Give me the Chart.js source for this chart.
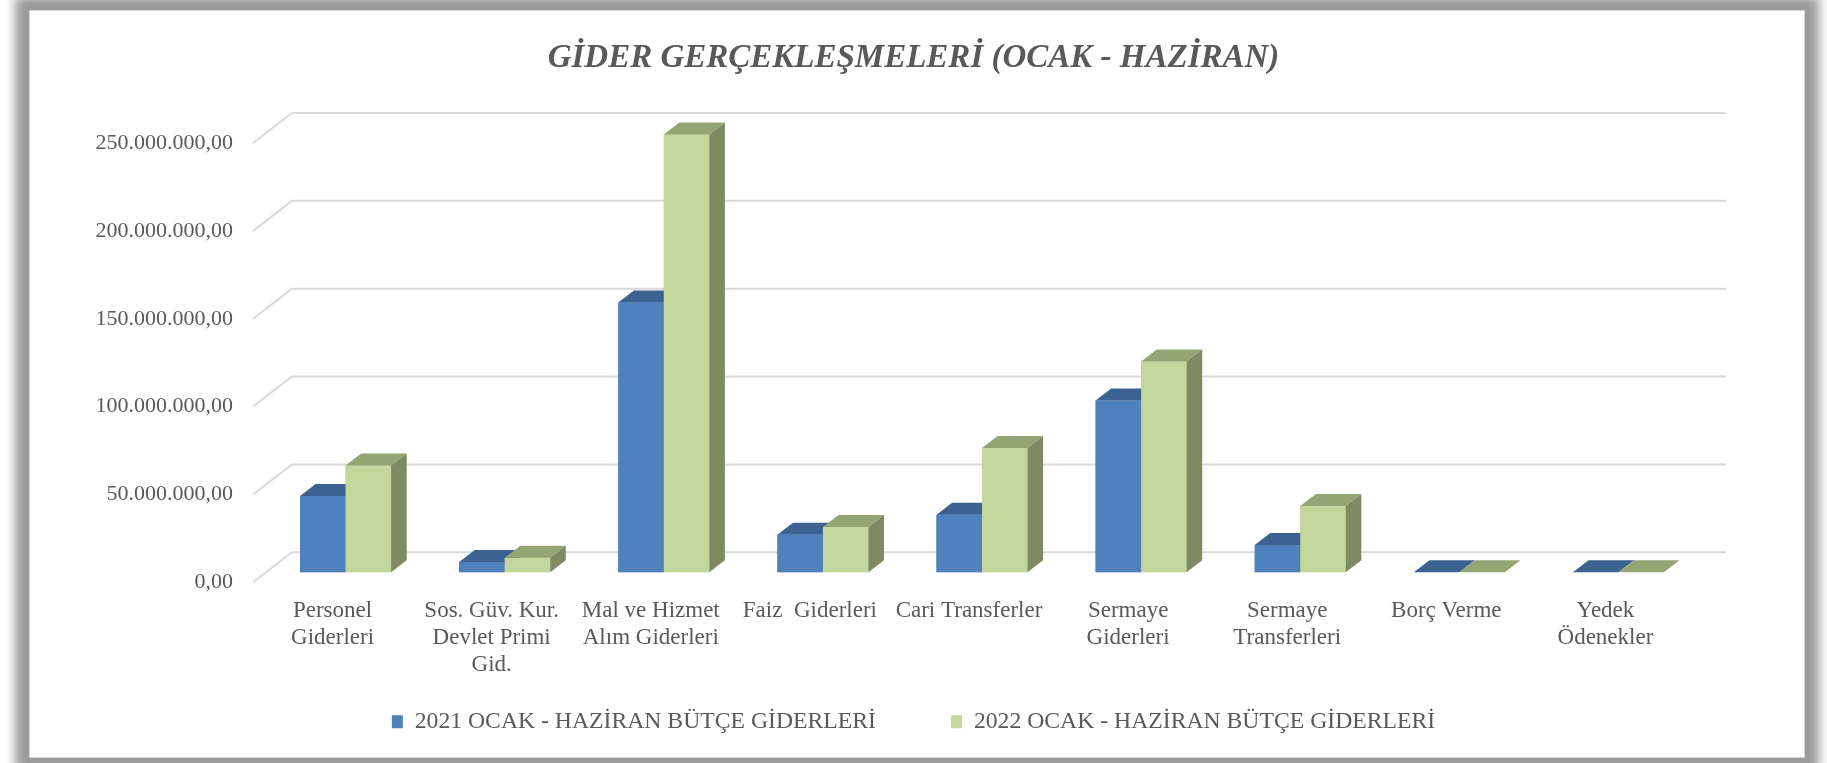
<!DOCTYPE html>
<html lang="tr">
<head>
<meta charset="utf-8">
<title>Gider Gerçekleşmeleri</title>
<script src="https://cdn.jsdelivr.net/npm/chart.js@4.4.1/dist/chart.umd.min.js"></script>
<style>
    html, body { margin: 0; padding: 0; background: #fff; overflow: hidden; }
    #frame {
        position: absolute; left: 29px; top: 10px; width: 1776px; height: 748px;
        box-sizing: border-box; border: 1px solid #d4d4d4; background: #fff;
        box-shadow: 0 0 10px 14px #9b9b9b;
    }
    #wrap { position: absolute; left: 0; top: 0; width: 1827px; height: 763px; }
</style>
</head>
<body>
<div id="frame"></div>
<div id="wrap"><canvas id="chartGider" width="1827" height="763"></canvas></div>
<script>
// Veriler
const categories = [
    ["Personel", "Giderleri"],
    ["Sos. Güv. Kur.", "Devlet Primi", "Gid."],
    ["Mal ve Hizmet", "Alım Giderleri"],
    "Faiz  Giderleri",
    "Cari Transferler",
    ["Sermaye", "Giderleri"],
    ["Sermaye", "Transferleri"],
    "Borç Verme",
    ["Yedek", "Ödenekler"],
];
const seriesNames = [
    "2021 OCAK - HAZİRAN BÜTÇE GİDERLERİ",
    "2022 OCAK - HAZİRAN BÜTÇE GİDERLERİ",
];
const values2021 = [43400000, 5900000, 153600000, 21400000, 32800000, 97700000, 15500000, 0, 0];
const values2022 = [60800000, 8300000, 249200000, 25800000, 70800000, 119900000, 37700000, 0, 0];
const yTicks = [0, 50000000, 100000000, 150000000, 200000000, 250000000];

// Renkler (ön yüz, üst yüz, yan yüz)
const colors2021 = { front: "#4f81bd", top: "#3b6290", side: "#385d8a" };
const colors2022 = { front: "#c3d69b", top: "#94a574", side: "#7e8b62" };

// 3B görünüm için derinlik
const BAR_DX = 15.6, BAR_DY = 12;
const WALL_FRONT = { dx: -13, dy: 10 };
const WALL_BACK = { dx: 26, dy: -20 };

const textColor = "#595959";
const serif = "'Liberation Serif', 'DejaVu Serif', serif";
const LEGEND_GAP = "           "; // iki lejant öğesi arası boşluk

/**
 * Sayıyı Türkçe biçimde yazar: 250.000.000,00
 */
function formatTR(value) {
    const whole = Math.round(value).toString().replace(/\B(?=(\d{3})+(?!\d))/g, ".");
    return whole + ",00";
}

// Arka duvar çizgileri (eğik)
const wallGrid = {
    id: "wallGrid",
    beforeDatasetsDraw(chart) {
        const { ctx, chartArea } = chart;
        const y = chart.scales.y;
        ctx.save();
        ctx.strokeStyle = "#d9d9d9";
        ctx.lineWidth = 2;
        y.ticks.forEach((t) => {
            const py = y.getPixelForValue(t.value);
            ctx.beginPath();
            ctx.moveTo(chartArea.left + WALL_FRONT.dx, py + WALL_FRONT.dy);
            ctx.lineTo(chartArea.left + WALL_BACK.dx, py + WALL_BACK.dy);
            ctx.lineTo(chartArea.right + WALL_BACK.dx + 2, py + WALL_BACK.dy);
            ctx.stroke();
        });
        ctx.restore();
    },
};

// Çubuklara üst ve yan yüz ekler
const bars3d = {
    id: "bars3d",
    afterDatasetsDraw(chart) {
        const { ctx } = chart;
        const palettes = [colors2021, colors2022];
        const metas = [chart.getDatasetMeta(0), chart.getDatasetMeta(1)];
        ctx.save();
        for (let i = 0; i < categories.length; i++) {
            metas.forEach((meta, d) => {
                const bar = meta.data[i];
                const c = palettes[d];
                const left = bar.x - bar.width / 2;
                const right = bar.x + bar.width / 2;
                const top = Math.min(bar.y, bar.base);
                const base = bar.base;
                // ön yüz (sonraki seri öncekinin yan yüzünü örter)
                ctx.fillStyle = c.front;
                ctx.fillRect(left, top, right - left, base - top);
                // üst yüz
                ctx.fillStyle = c.top;
                ctx.beginPath();
                ctx.moveTo(left, top);
                ctx.lineTo(right, top);
                ctx.lineTo(right + BAR_DX, top - BAR_DY);
                ctx.lineTo(left + BAR_DX, top - BAR_DY);
                ctx.closePath();
                ctx.fill();
                // yan yüz
                if (base - top > 0) {
                    ctx.fillStyle = c.side;
                    ctx.beginPath();
                    ctx.moveTo(right, top);
                    ctx.lineTo(right + BAR_DX, top - BAR_DY);
                    ctx.lineTo(right + BAR_DX, base - BAR_DY);
                    ctx.lineTo(right, base);
                    ctx.closePath();
                    ctx.fill();
                }
            });
        }
        ctx.restore();
    },
};

const ctx = document.getElementById("chartGider").getContext("2d");

new Chart(ctx, {
    type: "bar",
    data: {
        labels: categories,
        datasets: [
            {
                label: seriesNames[0],
                data: values2021,
                backgroundColor: colors2021.front,
                borderWidth: 0,
            },
            {
                label: seriesNames[1],
                data: values2022,
                backgroundColor: colors2022.front,
                borderWidth: 0,
            },
        ],
    },
    options: {
        responsive: false,
        animation: false,
        events: [],
        layout: {
            padding: { top: 0, left: 0, right: 0, bottom: 19.5 },
        },
        datasets: {
            bar: { categoryPercentage: 0.572, barPercentage: 1 },
        },
        scales: {
            x: {
                grid: { display: false, drawTicks: false },
                border: { display: false },
                ticks: {
                    color: textColor,
                    font: { family: serif, size: 23, lineHeight: 1.174 },
                    padding: 25.5,
                    labelOffset: WALL_FRONT.dx,
                    maxRotation: 0,
                    minRotation: 0,
                    autoSkip: false,
                },
                afterFit(scale) {
                    scale.height = 127.5;
                },
            },
            y: {
                min: 0,
                max: yTicks[yTicks.length - 1],
                grid: { display: false, drawTicks: false },
                border: { display: false },
                afterBuildTicks(scale) {
                    scale.ticks = yTicks.map((v) => ({ value: v }));
                },
                ticks: {
                    color: textColor,
                    font: { family: serif, size: 22 },
                    padding: 33,
                    labelOffset: WALL_FRONT.dy,
                    callback: (v) => formatTR(v),
                },
                afterFit(scale) {
                    scale.width = 266;
                },
            },
            // sağdaki boş alan (başlığı ortalamak için)
            yRight: {
                position: "right",
                grid: { display: false, drawTicks: false },
                border: { display: false },
                ticks: { display: false },
                afterFit(scale) {
                    scale.width = 129;
                },
            },
        },
        plugins: {
            title: {
                display: true,
                text: "GİDER GERÇEKLEŞMELERİ (OCAK - HAZİRAN)",
                color: textColor,
                font: { family: serif, size: 33, weight: "bold", style: "italic", lineHeight: 1.2 },
                padding: { top: 38.5, bottom: 54.9 },
            },
            legend: {
                position: "bottom",
                labels: {
                    color: textColor,
                    font: { family: serif, size: 23.7 },
                    boxWidth: 11,
                    boxHeight: 13,
                    padding: 10,
                    generateLabels(chart) {
                        const items = Chart.defaults.plugins.legend.labels.generateLabels(chart);
                        items[0].text += LEGEND_GAP;
                        return items;
                    },
                },
            },
            tooltip: { enabled: false },
        },
    },
    plugins: [wallGrid, bars3d],
});
</script>
</body>
</html>
